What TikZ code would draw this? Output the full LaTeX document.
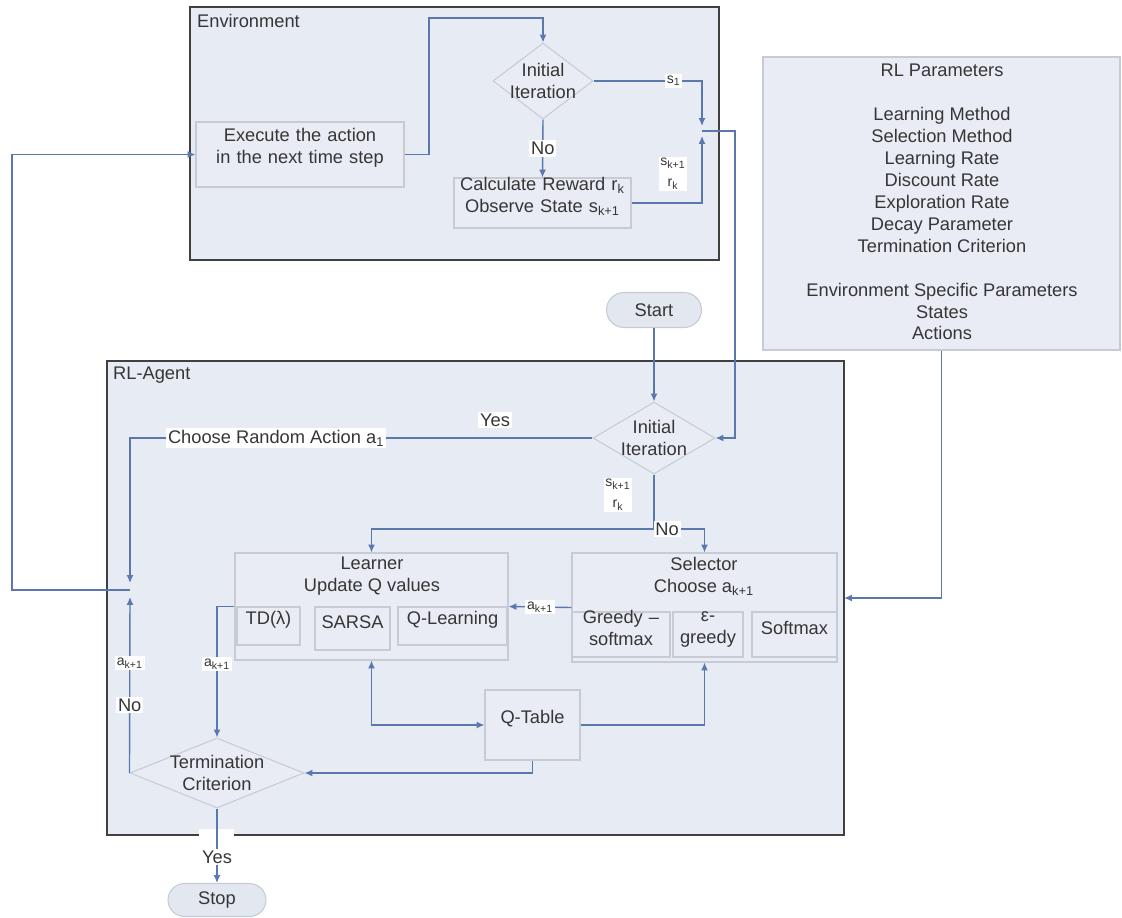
\documentclass[tikz,border=0pt]{standalone}
\usepackage{fontspec}
\setmainfont{Liberation Sans}
\usetikzlibrary{shapes.geometric,shapes.misc,arrows.meta,fit}
\definecolor{frame}{HTML}{404040}
\definecolor{panel}{HTML}{E7EBF4}
\definecolor{boxfill}{HTML}{E9ECF4}
\definecolor{boxline}{HTML}{C6CBD4}
\definecolor{connc}{HTML}{5B78AE}
\definecolor{txt}{HTML}{363636}
\definecolor{termfill}{HTML}{E3E7EF}
\begin{document}
\begin{tikzpicture}[x=0.02cm,y=-0.02cm,
  every node/.style={text=txt},
  font=\fontsize{10.4}{12.5}\selectfont,
  panelbox/.style={draw=frame, line width=1.1pt, fill=panel, inner sep=0pt},
  plainbox/.style={draw=boxline, line width=0.6pt, fill=boxfill, inner sep=0pt},
  decision/.style={diamond, draw=boxline, line width=0.6pt, fill=boxfill, inner sep=0pt},
  terminal/.style={rounded rectangle, draw=boxline, line width=0.6pt, fill=termfill, inner sep=0pt},
  conn/.style={draw=connc, line width=0.8pt, -{Latex[length=4.5pt,width=4pt]}},
  connboth/.style={draw=connc, line width=0.8pt, {Latex[length=4.5pt,width=4pt]}-{Latex[length=4.5pt,width=4pt]}},
  connplain/.style={draw=connc, line width=0.8pt},
  lbl/.style={fill=white, inner sep=1pt},
  small/.style={font=\fontsize{8}{12}\selectfont}
]
\useasboundingbox (0,0) rectangle (1122,917);

% Environment
\node[panelbox, fit={(190,7)(719,260)}] (env) {};
\node[anchor=west] (envlbl) at (191,21) {Environment};
\node[plainbox, fit={(196,122)(404,187)}, align=center] (exec) {Execute the action\\in the next time step};
\node[decision, minimum width=2cm, minimum height=1.52cm] (d1) at (543,81) {};
\node[align=center] (d1t) at (d1) {Initial\\Iteration};
\node[plainbox, fit={(454,178)(631,228)}, align=center] (calc) {Calculate Reward r\textsubscript{k}\\Observe State s\textsubscript{k+1}};

% RL parameters
\node[plainbox, fit={(763,57)(1120,350)}] (params) {};
\node[align=center] (paramst) at (942,202) {RL Parameters\\[12.5pt]Learning Method\\Selection Method\\Learning Rate\\Discount Rate\\Exploration Rate\\Decay Parameter\\Termination Criterion\\[12.5pt]Environment Specific Parameters\\States\\Actions};

% Start
\node[terminal, minimum width=1.9cm, minimum height=0.7cm] (start) at (654,310) {Start};

% RL-Agent
\node[panelbox, fit={(107,361)(844,835)}] (agent) {};
\node[anchor=west] (agentlbl) at (107,375) {RL-Agent};
\node[decision, minimum width=2.44cm, minimum height=1.44cm] (d2) at (654,438) {};
\node[align=center] (d2t) at (d2) {Initial\\Iteration};

\node[plainbox, fit={(235,553)(508,660)}] (learner) {};
\node[align=center] (learnert) at (372,576) {Learner\\Update Q values};
\node[plainbox, fit={(237,607)(300,645)}] (td) {TD(λ)};
\node[plainbox, fit={(315,607)(390,650)}] (sarsa) {SARSA};
\node[plainbox, fit={(398,607)(507,645)}] (ql) {Q-Learning};

\node[plainbox, fit={(572,553)(837,662)}] (sel) {};
\node[align=center] (selt) at (704,576) {Selector\\Choose a\textsubscript{k+1}};
\node[plainbox, fit={(572,612)(670,657)}, align=center] (gs) {Greedy –\\softmax};
\node[plainbox, fit={(673,612)(743,657)}, align=center] (eg) {ε-\\greedy};
\node[plainbox, fit={(752,612)(837,657)}] (sm) {Softmax};

\node[plainbox, fit={(485,690)(580,760)}] (qt) {Q-Table};

\node[decision, minimum width=3.48cm, minimum height=1.4cm] (term) at (217,773) {};
\node[align=center] (termt) at (term) {Termination\\Criterion};

\fill[white] (199,829) rectangle (234,842);
\node[terminal, minimum width=1.96cm, minimum height=0.66cm] (stop) at (217,900) {Stop};

% junction coordinates
\coordinate (jtop) at (702,126);
\coordinate (jbot) at (702,136);
\coordinate (jn) at (702,131);
\coordinate (jA) at (130,583);
\coordinate (jB) at (130,597);
\coordinate (jC) at (130,590);
\coordinate (split) at (654,529);
\coordinate (agentE) at (844,598);

% connectors
\draw[conn] (exec.east) -| (429,18) -| (d1.north);
\draw[conn] (d1.south) -- node[lbl]{No} (calc.north);
\draw[conn] (d1.east) -| node[lbl,small,pos=0.37]{s\textsubscript{1}} (jtop);
\draw[conn] (calc.east) -| (jbot);
\node[lbl,small,align=center] (l1) at (673,174) {s\textsubscript{k+1}\\r\textsubscript{k}};
\draw[conn] (jn) -- (735,131) |- (d2.east);
\draw[conn] (start.south) -- (d2.north);
\draw[conn] (d2.west) -| node[lbl,pos=0.342]{Choose Random Action a\textsubscript{1}} (jA);
\node[lbl] (yes1) at (495,420) {Yes};
\draw[connplain] (d2.south) -- (split);
\draw[conn] (split) -| (learner.north);
\draw[conn] (split) -| node[lbl,pos=0.13]{No} (sel.north);
\node[lbl,small,align=center] (l2) at (618,495) {s\textsubscript{k+1}\\r\textsubscript{k}};
\draw[conn] (sel.west) -- node[lbl,small]{a\textsubscript{k+1}} (learner.east);
\draw[conn] (learner.west) -| node[lbl,small,pos=0.72]{a\textsubscript{k+1}} (term.north);
\draw[connboth] (learner.south) |- (qt.west);
\draw[conn] (qt.east) -| (sel.south);
\draw[conn] (qt.south) |- (term.east);
\draw[conn] (term.west) -- node[lbl,pos=0.386]{No} node[lbl,small,pos=0.625]{a\textsubscript{k+1}} (jB);
\draw[conn] (jC) -- (12,590) |- (exec.west);
\draw[conn] (term.south) -- node[lbl,pos=0.65]{Yes} (stop.north);
\draw[conn] (params.south) |- (agentE);
\end{tikzpicture}
\end{document}
